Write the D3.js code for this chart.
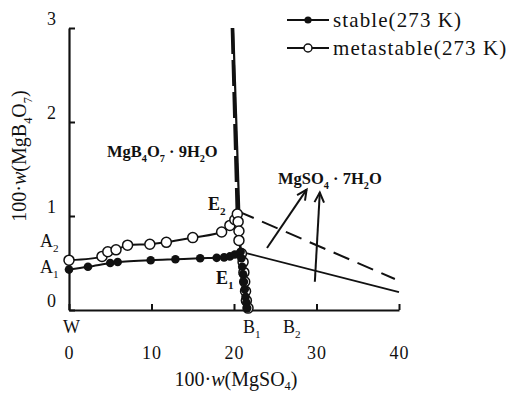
<!DOCTYPE html>
<html><head><meta charset="utf-8">
<script src="https://cdn.jsdelivr.net/npm/d3@7"></script>
<style>
body{margin:0;background:#fff}
text{font-family:"Liberation Serif","Times New Roman",serif;fill:#111}
</style>
</head><body><svg id="c" width="513" height="394"></svg>
<script>
// MgSO4 – MgB4O7 – H2O at 273 K; x = 100·w(MgSO4), y = 100·w(MgB4O7)
const stableA1E1 = [[0,0.43],[2.3,0.46],[5.0,0.50],[5.9,0.51],[9.9,0.53],[12.9,0.54],[15.9,0.55],[17.9,0.555],[18.8,0.56],[19.5,0.57],[20.1,0.59],[20.8,0.62]];
const stableE1B1 = [[20.8,0.62],[20.9,0.55],[21.0,0.46],[21.1,0.38],[21.2,0.30],[21.3,0.22],[21.4,0.14],[21.5,0.08],[21.6,0.02]];
const stableUpper = [[19.9,3.0],[20.8,0.62]];
const stableRight = [[20.8,0.62],[40,0.19]];
const metaA2E2 = [[0,0.53],[4.0,0.57],[4.7,0.62],[5.7,0.64],[7.1,0.69],[9.8,0.70],[11.8,0.72],[15.0,0.77],[18.5,0.83],[19.5,0.90],[20.1,0.96],[20.4,1.02]];
const metaE2B1 = [[20.4,1.02],[20.5,0.94],[20.6,0.84],[20.6,0.74],[20.9,0.60],[21.1,0.51],[21.2,0.40],[21.3,0.30],[21.4,0.20],[21.5,0.10],[21.7,0.02]];
const metaUpper = [[19.8,3.0],[20.4,1.02]];
const metaRight = [[20.5,1.05],[39.5,0.33]];
const xTicks = [0,10,20,30,40];
const yTicks = [0,1,2,3];
const legendLabels = ["stable(273 K)","metastable(273 K)"];
// crystallization-field arrows (from, to) in data units
const arrows = [[[24.0,0.66],[28.8,1.28]],[[29.8,0.30],[30.4,1.25]]];

const svg = d3.select("#c");
const x = d3.scaleLinear().domain([0,40]).range([69,399]);
const y = d3.scaleLinear().domain([0,3]).range([310,28]);

// axes with inward ticks
const gx = svg.append("g").attr("transform",`translate(0,${y(0)})`)
  .call(d3.axisBottom(x).tickValues(xTicks).tickFormat(d3.format("d")).tickSizeInner(-6).tickSizeOuter(0).tickPadding(36));
const gy = svg.append("g").attr("transform",`translate(${x(0)},0)`)
  .call(d3.axisLeft(y).tickValues(yTicks).tickFormat(d3.format("d")).tickSizeInner(-6).tickSizeOuter(0).tickPadding(12));
[gx,gy].forEach(g=>{
  g.attr("font-family",null);
  g.select(".domain").attr("stroke","#111").attr("stroke-width",2.2);
  g.selectAll(".tick line").attr("stroke","#111").attr("stroke-width",2);
  g.selectAll(".tick text").style("font-size","18px").style("letter-spacing","1px").attr("fill","#222");
});
gy.selectAll(".tick text").attr("dy","-0.2em");

const line = d3.line().x(d=>x(d[0])).y(d=>y(d[1]));
const smooth = d3.line().x(d=>x(d[0])).y(d=>y(d[1])).curve(d3.curveCatmullRom.alpha(0.5));

// metastable (dashed) boundaries
svg.append("path").attr("d",line(metaUpper)).attr("fill","none").attr("stroke","#111").attr("stroke-width",3.4).attr("stroke-dasharray","26,6");
svg.append("path").attr("d",line(metaRight)).attr("fill","none").attr("stroke","#111").attr("stroke-width",2).attr("stroke-dasharray","17,9");
// stable (solid) boundaries
svg.append("path").attr("d",line(stableUpper)).attr("fill","none").attr("stroke","#111").attr("stroke-width",2.2);
svg.append("path").attr("d",line(stableRight)).attr("fill","none").attr("stroke","#111").attr("stroke-width",1.8);

// solubility curves
[metaA2E2,metaE2B1,stableA1E1,stableE1B1].forEach(d=>{
  svg.append("path").attr("d",smooth(d)).attr("fill","none").attr("stroke","#111").attr("stroke-width",2);
});

// data points
svg.append("g").selectAll("circle").data(metaA2E2.concat(metaE2B1.slice(1))).join("circle")
  .attr("cx",d=>x(d[0])).attr("cy",d=>y(d[1])).attr("r",5)
  .attr("fill","#fff").attr("stroke","#111").attr("stroke-width",1.5);
svg.append("g").selectAll("circle").data(stableA1E1.concat(stableE1B1.slice(1))).join("circle")
  .attr("cx",d=>x(d[0])).attr("cy",d=>y(d[1])).attr("r",4.3).attr("fill","#111");

// arrows
arrows.forEach(([a,b])=>{
  const x1=x(a[0]),y1=y(a[1]),x2=x(b[0]),y2=y(b[1]);
  const ang=Math.atan2(y2-y1,x2-x1), L=11, w=0.45;
  svg.append("line").attr("x1",x1).attr("y1",y1).attr("x2",x2).attr("y2",y2).attr("stroke","#111").attr("stroke-width",2);
  svg.append("path").attr("d",`M${x2-L*Math.cos(ang-w)},${y2-L*Math.sin(ang-w)}L${x2},${y2}L${x2-L*Math.cos(ang+w)},${y2-L*Math.sin(ang+w)}`)
    .attr("fill","none").attr("stroke","#111").attr("stroke-width",2);
});

// text helper with subscripts: parts = [[text, isSub, isItalic], ...]
function rich(px,py,parts,opt){
  const t = svg.append("text").attr("x",px).attr("y",py)
    .style("font-size",opt.size+"px").style("font-weight",opt.bold?"bold":"normal")
    .attr("text-anchor",opt.anchor||"start");
  if(opt.ls) t.style("letter-spacing",opt.ls+"px");
  if(opt.rotate) t.attr("transform",`rotate(${opt.rotate},${px},${py})`);
  let prevSub=false;
  const drop = opt.drop!==undefined ? opt.drop : 0.28;
  parts.forEach(([s,sub,it])=>{
    const sp=t.append("tspan").text(s);
    if(sub && !prevSub){sp.attr("dy",opt.size*drop).style("font-size",(opt.size*0.62)+"px");}
    else if(sub){sp.style("font-size",(opt.size*0.62)+"px");}
    else if(prevSub){sp.attr("dy",-opt.size*drop);}
    if(it) sp.style("font-style","italic");
    prevSub=sub;
  });
  return t;
}

// point labels
rich(63,333,[["W"]],{size:18});
rich(243,333,[["B"],["1",true]],{size:18});
rich(283,333,[["B"],["2",true]],{size:18});
rich(40,247,[["A"],["2",true]],{size:18});
rich(40,273,[["A"],["1",true]],{size:18});
rich(208,210,[["E"],["2",true]],{size:18,bold:true});
rich(216,284,[["E"],["1",true]],{size:18,bold:true});
rich(107,157,[["MgB"],["4",true],["O"],["7",true],[" · 9H"],["2",true],["O"]],{size:16.5,bold:true});
rich(278,184,[["MgSO"],["4",true],[" · 7H"],["2",true],["O"]],{size:16.5,bold:true});

// axis titles
rich(236,386,[["100·"],["w",false,true],["(MgSO"],["4",true],[")"]],{size:20,anchor:"middle",drop:0.2});
rich(26,156,[["100·"],["w",false,true],["(MgB"],["4",true],["O"],["7",true],[")"]],{size:20,anchor:"middle",rotate:-90});

// legend
const lg = svg.append("g");
legendLabels.forEach((lab,i)=>{
  const ly = 20 + i*28;
  lg.append("line").attr("x1",287).attr("x2",329).attr("y1",ly).attr("y2",ly).attr("stroke","#111").attr("stroke-width",2);
  if(i===0) lg.append("circle").attr("cx",308).attr("cy",ly).attr("r",3.6).attr("fill","#111");
  else lg.append("circle").attr("cx",308).attr("cy",ly).attr("r",4).attr("fill","#fff").attr("stroke","#111").attr("stroke-width",1.5);
  lg.append("text").attr("x",333).attr("y",ly+7).style("font-size","21px").style("letter-spacing","1.1px").text(lab);
});
</script>
</body></html>
